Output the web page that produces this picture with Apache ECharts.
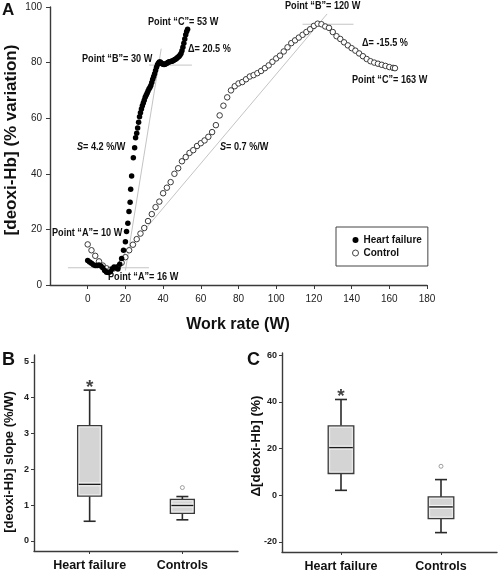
<!DOCTYPE html>
<html><head><meta charset="utf-8">
<script src="https://cdn.jsdelivr.net/npm/echarts@6/dist/echarts.min.js"></script>
<style>html,body{margin:0;padding:0;background:#fff}#c{width:500px;height:573px}</style>
</head><body><div id="c"></div>
<script>
// ---- Panel A data ----
const hfWork  = [0,1,2,3,4,5,6,7,8,9,10,11,12,13,14,15,16,17,18,19,20,20.6,21.3,21.9,22.5,22.8,23.3,24.2,24.9,25.4,26,26.5,27,27.5,28,28.5,29,29.5,30,30.5,31,31.5,32,32.5,33,33.5,34,34.5,35,35.5,36,36.5,37,37.5,38,38.5,39,39.5,40,40.5,41,41.5,42,42.5,43,43.5,44,44.5,45,45.5,46,46.5,47,47.5,48,48.5,49,49.5,50,50.5,51,51.5,52,52.5,53];
const hfDeoxy = [8.8,8.3,7.8,7.3,7.0,7.0,7.2,6.8,6.2,5.2,4.6,4.5,4.8,5.8,6.5,6.3,5.8,7.5,9.5,12.5,15.6,19.2,22.2,26.4,29.8,34.4,39.2,45.8,49.4,53,54.6,56.5,58.5,60.5,62,63.3,64.5,65.5,66.5,67.5,68.3,69,69.8,70.5,71,71.8,72.8,74,75,76,77.2,78.3,79.2,79.8,80.2,80.2,79.9,79.6,79.4,79.3,79.4,79.6,79.8,80,80.2,80.3,80.4,80.5,80.6,80.8,81,81.2,81.4,81.7,82,82.3,82.7,83.3,84.3,85.5,87,88.5,90,91.2,92];
const ctrlWork  = [0,2,4,6,8,10,12,14,16,18,20,22,24,26,28,30,32,34,36,38,40,42,44,46,48,50,52,54,56,58,60,62,64,66,68,70,72,74,76,78,80,82,84,86,88,90,92,94,96,98,100,102,104,106,108,110,112,114,116,118,120,122,124,126,128,130,132,134,136,138,140,142,144,146,148,150,152,154,156,158,160,162,163];
const ctrlDeoxy = [14.6,12.5,10.5,8.5,7,6,5.5,6,6.5,8,10,12.5,14.5,16.5,18.5,20.5,23,25.5,28,30,33,35,37,40,42,44.5,46,47.5,48.5,50,51,52,53.3,55,57.5,61,64.5,67.5,70,71.5,72.5,73,74,75,75.5,76.2,77,78,79,80.3,81.5,82.5,84,85.5,87,88,89,90,91,92,93.2,94,93.8,93,92.5,91,89.5,88.5,87.3,86.2,85.2,84.3,83.3,82.3,81.3,80.5,80,79.6,79.2,78.8,78.4,78.1,78];
const baselineA  = [[-10.5, 6.2], [32.5, 6.2]];
const hfSlopeLine = [[20, 5.2], [39, 85]];
const hfPlateau  = [[32.5, 79.1], [55.3, 79.1]];
const ctrlSlopeLine = [[18, 10], [127, 97.5]];
const ctrlPeakLine  = [[114, 93.8], [141, 93.8]];
const xTicksA = [0,20,40,60,80,100,120,140,160,180];
const yTicksA = [0,20,40,60,80,100];

// ---- Panels B & C data ----
const boxCategories = ['Heart failure', 'Controls'];
const slopeBox  = [[0.55,1.25,1.58,3.22,4.21],[0.59,0.77,0.99,1.16,1.24]]; // min,Q1,median,Q3,max
const slopeOutliers = [[2, 1.49]];
const slopeStar = [[1, 4.4]];
const slopeTicks = [0,1,2,3,4,5];
const deltaBox  = [[2.1,9.3,20.4,29.7,41],[-16,-10,-5,-0.7,6.7]];
const deltaOutliers = [[2, 12.4]];
const deltaStar = [[1, 44]];
const deltaTicks = [-20,0,20,40,60];

const SANS = "'Liberation Sans',Arial,sans-serif";
const AX = '#3a3a3a';

function zip(a, b){ return a.map((v,i)=>[v,b[i]]); }
function boxData(arr){ return arr.map((r,i)=>[i+1].concat(r)); }
function boxRender(hw){
  return function(params, api){
    const x = api.value(0);
    const lo = api.coord([x, api.value(1)]), q1 = api.coord([x, api.value(2)]),
          md = api.coord([x, api.value(3)]), q3 = api.coord([x, api.value(4)]),
          hi = api.coord([x, api.value(5)]);
    const cx = lo[0], cw = 6;
    const ls = {stroke:'#2a2a2a', lineWidth:1.6};
    return {type:'group', children:[
      {type:'line', shape:{x1:cx,y1:hi[1],x2:cx,y2:q3[1]}, style:ls},
      {type:'line', shape:{x1:cx,y1:q1[1],x2:cx,y2:lo[1]}, style:ls},
      {type:'line', shape:{x1:cx-cw,y1:hi[1],x2:cx+cw,y2:hi[1]}, style:ls},
      {type:'line', shape:{x1:cx-cw,y1:lo[1],x2:cx+cw,y2:lo[1]}, style:ls},
      {type:'rect', shape:{x:cx-hw,y:q3[1],width:2*hw,height:q1[1]-q3[1]}, style:{fill:'#d4d4d4',stroke:'#3a3a3a',lineWidth:1.3}},
      {type:'rect', shape:{x:cx-hw+1.5,y:q3[1]+1.5,width:2*hw-3,height:q1[1]-q3[1]-3}, style:{fill:'none',stroke:'#f2f2f2',lineWidth:0.8}},
      {type:'line', shape:{x1:cx-hw+1,y1:md[1],x2:cx+hw-1,y2:md[1]}, style:{stroke:'#f4f4f4',lineWidth:4}},
      {type:'line', shape:{x1:cx-hw+1,y1:md[1],x2:cx+hw-1,y2:md[1]}, style:{stroke:'#1a1a1a',lineWidth:1.4}}
    ]};
  };
}
function refLine(data){
  return {type:'line', xAxisIndex:0, yAxisIndex:0, data:data, symbol:'none', silent:true,
    lineStyle:{color:'#c4c4c4', width:1}, z:1, animation:false};
}
function annot(x, y, text){
  return {type:'text', x:x, y:y, scaleX:0.83, style:{text:text, fill:'#111', font:"bold 11px "+SANS, align:'left', verticalAlign:'middle',
    rich:{i:{fontStyle:'italic', fontWeight:'bold', fontSize:11, fontFamily:SANS, fill:'#111'}}}};
}

const chart = echarts.init(document.getElementById('c'), null, {renderer:'canvas'});
const smallBold = {fontSize:9, fontWeight:'bold', fontFamily:SANS, color:'#222'};
const catLabel = {fontSize:12.5, fontWeight:'bold', fontFamily:SANS, color:'#111'};
chart.setOption({
  animation:false,
  backgroundColor:'#fff',
  grid:[
    {left:50, right:73, top:7, bottom:288},
    {left:34, right:262, top:355, bottom:22},
    {left:282, right:3, top:353, bottom:21}
  ],
  xAxis:[
    {gridIndex:0, type:'value', min:-20, max:180,
      axisLine:{onZero:false, lineStyle:{color:AX, width:1.4}}, splitLine:{show:false},
      axisTick:{customValues:xTicksA, length:4, lineStyle:{color:AX}},
      axisLabel:{customValues:xTicksA, margin:9, fontSize:10, fontFamily:SANS, color:'#222'}},
    {gridIndex:1, type:'value', min:0.4, max:2.6,
      axisLine:{onZero:false, lineStyle:{color:AX, width:1.4}}, splitLine:{show:false},
      axisTick:{customValues:[1,2], length:3, lineStyle:{color:AX}},
      axisLabel:Object.assign({customValues:[1,2], formatter:v=>boxCategories[Math.round(v)-1], margin:8}, catLabel)},
    {gridIndex:2, type:'value', min:0.41, max:2.56,
      axisLine:{onZero:false, lineStyle:{color:AX, width:1.4}}, splitLine:{show:false},
      axisTick:{customValues:[1,2], length:3, lineStyle:{color:AX}},
      axisLabel:Object.assign({customValues:[1,2], formatter:v=>boxCategories[Math.round(v)-1], margin:8}, catLabel)}
  ],
  yAxis:[
    {gridIndex:0, type:'value', min:0, max:100, interval:20,
      axisLine:{show:true, onZero:false, lineStyle:{color:AX, width:1.4}}, splitLine:{show:false},
      axisTick:{show:true, length:4, lineStyle:{color:AX}},
      axisLabel:{margin:8, fontSize:10, fontFamily:SANS, color:'#222'}},
    {gridIndex:1, type:'value', min:-0.28, max:5.19,
      axisLine:{show:true, onZero:false, lineStyle:{color:AX, width:1.4}}, splitLine:{show:false},
      axisTick:{show:true, customValues:slopeTicks, length:3, lineStyle:{color:AX}},
      axisLabel:Object.assign({customValues:slopeTicks, margin:5}, smallBold)},
    {gridIndex:2, type:'value', min:-24.3, max:60.9,
      axisLine:{show:true, onZero:false, lineStyle:{color:AX, width:1.4}}, splitLine:{show:false},
      axisTick:{show:true, customValues:deltaTicks, length:3, lineStyle:{color:AX}},
      axisLabel:Object.assign({customValues:deltaTicks, margin:5}, smallBold)}
  ],
  legend:{
    left:336, top:227, orient:'vertical', padding:[8,6,8,16], itemGap:3,
    itemWidth:6, itemHeight:6, borderColor:'#444', borderWidth:1, borderRadius:0,
    textStyle:{fontSize:10, fontWeight:'bold', fontFamily:SANS, color:'#111'},
    data:[
      {name:'Heart failure', icon:'circle', itemStyle:{color:'#000', borderWidth:0}},
      {name:'Control', icon:'circle', itemStyle:{color:'#fff', borderColor:'#444', borderWidth:1}}
    ]
  },
  series:[
    refLine(baselineA), refLine(hfSlopeLine), refLine(hfPlateau), refLine(ctrlSlopeLine), refLine(ctrlPeakLine),
    {name:'Control', type:'scatter', xAxisIndex:0, yAxisIndex:0, data:zip(ctrlWork, ctrlDeoxy),
      symbol:'circle', symbolSize:5.5, itemStyle:{color:'#fff', borderColor:'#3a3a3a', borderWidth:1, opacity:1}, z:3},
    {name:'Heart failure', type:'scatter', xAxisIndex:0, yAxisIndex:0, data:zip(hfWork, hfDeoxy),
      symbol:'circle', symbolSize:5.5, itemStyle:{color:'#000', opacity:1}, z:4},
    {type:'custom', xAxisIndex:1, yAxisIndex:1, data:boxData(slopeBox), renderItem:boxRender(12), encode:{x:0, y:[1,2,3,4,5]}},
    {type:'scatter', xAxisIndex:1, yAxisIndex:1, data:slopeOutliers, symbol:'circle', symbolSize:4,
      itemStyle:{color:'#fff', borderColor:'#888', borderWidth:1}},
    {type:'scatter', xAxisIndex:1, yAxisIndex:1, data:slopeStar, symbolSize:0,
      label:{show:true, position:'inside', formatter:'*', fontSize:19, fontWeight:'bold', color:'#111', fontFamily:SANS, offset:[0,4]}},
    {type:'custom', xAxisIndex:2, yAxisIndex:2, data:boxData(deltaBox), renderItem:boxRender(12.8), encode:{x:0, y:[1,2,3,4,5]}},
    {type:'scatter', xAxisIndex:2, yAxisIndex:2, data:deltaOutliers, symbol:'circle', symbolSize:4,
      itemStyle:{color:'#fff', borderColor:'#888', borderWidth:1}},
    {type:'scatter', xAxisIndex:2, yAxisIndex:2, data:deltaStar, symbolSize:0,
      label:{show:true, position:'inside', formatter:'*', fontSize:19, fontWeight:'bold', color:'#111', fontFamily:SANS, offset:[0,4]}}
  ],
  graphic:[
    {type:'text', x:2, y:10, style:{text:'A', font:"bold 17px "+SANS, fill:'#111', verticalAlign:'middle'}},
    {type:'text', x:2, y:360, style:{text:'B', font:"bold 18px "+SANS, fill:'#111', verticalAlign:'middle'}},
    {type:'text', x:247, y:360, style:{text:'C', font:"bold 18px "+SANS, fill:'#111', verticalAlign:'middle'}},
    {type:'text', x:238, y:325, style:{text:'Work rate (W)', font:"bold 16px "+SANS, fill:'#111', align:'center', verticalAlign:'middle'}},
    {type:'text', x:11, y:140, rotation:Math.PI/2, style:{text:'[deoxi-Hb] (% variation)', font:"bold 17px "+SANS, fill:'#111', align:'center', verticalAlign:'middle'}},
    {type:'text', x:9, y:462, rotation:Math.PI/2, style:{text:'[deoxi-Hb] slope (%/W)', font:"bold 13px "+SANS, fill:'#111', align:'center', verticalAlign:'middle'}},
    {type:'text', x:256, y:446, rotation:Math.PI/2, style:{text:'Δ[deoxi-Hb] (%)', font:"bold 13.5px "+SANS, fill:'#111', align:'center', verticalAlign:'middle'}},
    annot(148, 22, 'Point “C”= 53 W'),
    annot(188, 49, 'Δ= 20.5 %'),
    annot(82, 59, 'Point “B”= 30 W'),
    annot(77, 147, '{i|S}= 4.2 %/W'),
    annot(220, 147, '{i|S}= 0.7 %/W'),
    annot(285, 6, 'Point “B”= 120 W'),
    annot(362, 43, 'Δ= -15.5 %'),
    annot(352, 80, 'Point “C”= 163 W'),
    annot(52, 233, 'Point “A”= 10 W'),
    annot(108, 277, 'Point “A”= 16 W')
  ]
});
</script></body></html>
